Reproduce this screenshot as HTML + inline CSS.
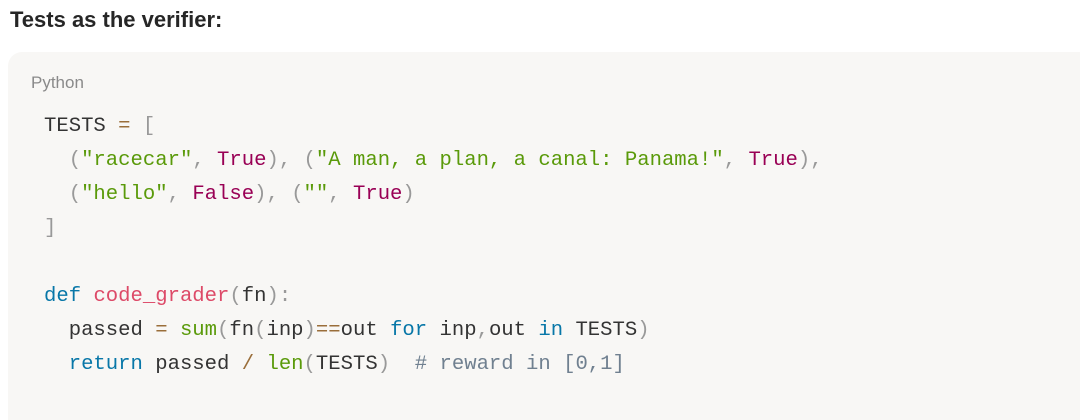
<!DOCTYPE html>
<html><head><meta charset="utf-8"><style>
html,body{margin:0;width:1080px;height:420px;overflow:hidden}
body{background:#fff;position:relative;font-family:"Liberation Sans",sans-serif}
.t{position:absolute;left:10px;top:7px;font-size:22px;font-weight:bold;color:#262626}
.box{position:absolute;left:8px;top:52px;width:1072px;height:368px;background:#f8f7f5;border-radius:14px 0 0 0}
.lang{position:absolute;left:31px;top:73px;font-size:17px;color:#8a8a8a}
pre{position:absolute;left:44px;top:110px;margin:0;font-family:"Liberation Mono",monospace;font-size:20.6px;line-height:34px;color:#333}
.s{color:#5a9a0a}.k{color:#990055}.p{color:#999}.o{color:#9a6e3a}.b{color:#0877a8}.f{color:#dd4a68}.c{color:#708090}
</style></head><body>
<div class="t">Tests as the verifier:</div>
<div class="box"></div>
<div class="lang">Python</div>
<pre>TESTS <span class="o">=</span> <span class="p">[</span>
  <span class="p">(</span><span class="s">"racecar"</span><span class="p">,</span> <span class="k">True</span><span class="p">),</span> <span class="p">(</span><span class="s">"A man, a plan, a canal: Panama!"</span><span class="p">,</span> <span class="k">True</span><span class="p">),</span>
  <span class="p">(</span><span class="s">"hello"</span><span class="p">,</span> <span class="k">False</span><span class="p">),</span> <span class="p">(</span><span class="s">""</span><span class="p">,</span> <span class="k">True</span><span class="p">)</span>
<span class="p">]</span>

<span class="b">def</span> <span class="f">code_grader</span><span class="p">(</span>fn<span class="p">):</span>
  passed <span class="o">=</span> <span class="s">sum</span><span class="p">(</span>fn<span class="p">(</span>inp<span class="p">)</span><span class="o">==</span>out <span class="b">for</span> inp<span class="p">,</span>out <span class="b">in</span> TESTS<span class="p">)</span>
  <span class="b">return</span> passed <span class="o">/</span> <span class="s">len</span><span class="p">(</span>TESTS<span class="p">)</span>  <span class="c"># reward in [0,1]</span></pre>
</body></html>
